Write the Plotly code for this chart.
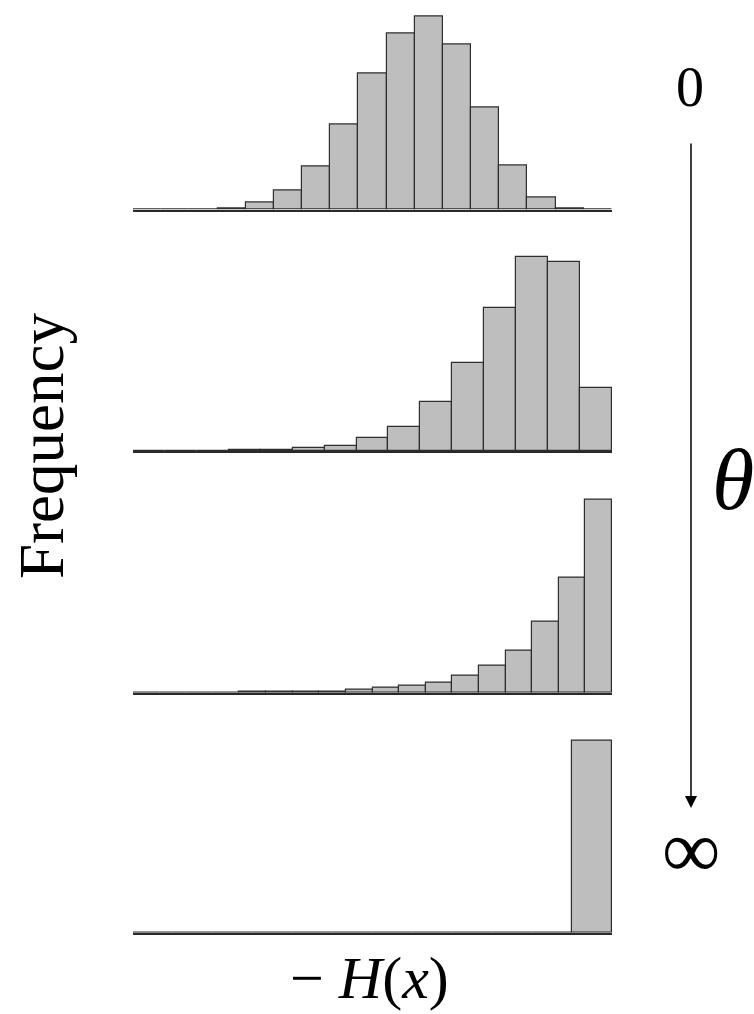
import plotly.graph_objects as go

# Histogram heights (relative frequency) for each theta level
freq_theta0 = [0, 0, 0, 0.7, 7, 18.7, 42.7, 85, 136.3, 175.7, 192.7, 165.3, 102, 44.3, 11.7, 0.7, 0]
freq_theta1 = [0, 0, 0, 1.3, 1.3, 3.3, 5, 13.3, 23.7, 49, 88, 143, 194.3, 188.7, 63.3]
freq_theta2 = [0, 0, 0, 0, 1, 1, 1, 1, 3.3, 4.7, 6.7, 10, 16.7, 26.7, 42.3, 71, 115.3, 193.3]
freq_theta3 = [0, 0, 0, 0, 0, 0, 0, 0, 0, 0, 0, 191.7]
panels = [freq_theta0, freq_theta1, freq_theta2, freq_theta3]

W, H = 754, 1014
baselines_px = [209.5, 451.0, 692.7, 932.7]
panel_h_px = 200.0
x_left_px, x_right_px = 133.0, 612.0

fig = go.Figure()
layout_axes = {}
for i, vals in enumerate(panels):
    n = len(vals)
    idx = i + 1
    xa = "x" if idx == 1 else f"x{idx}"
    ya = "y" if idx == 1 else f"y{idx}"
    fig.add_trace(go.Bar(
        x=list(range(n)), y=vals, xaxis=xa, yaxis=ya, width=1.0,
        marker=dict(color="#bebebe", line=dict(color="#2e2e2e", width=1.2)),
        showlegend=False, hoverinfo="skip"))
    yb = baselines_px[i]
    bottom = (H - yb) / H
    top = (H - yb + panel_h_px) / H
    xname = "xaxis" if idx == 1 else f"xaxis{idx}"
    yname = "yaxis" if idx == 1 else f"yaxis{idx}"
    layout_axes[xname] = dict(domain=[x_left_px / W, x_right_px / W], range=[-0.5, n - 0.5],
                              anchor=ya, showline=True, linecolor="#2a2a2a", linewidth=1.6,
                              showticklabels=False, ticks="", showgrid=False, zeroline=False,
                              fixedrange=True)
    layout_axes[yname] = dict(domain=[bottom, top], range=[0, panel_h_px], anchor=xa,
                              showline=False, showticklabels=False, ticks="", showgrid=False,
                              zeroline=False, fixedrange=True)

serif = "Liberation Serif, DejaVu Serif, serif"
fig.update_layout(
    width=W, height=H, margin=dict(l=0, r=0, t=0, b=0),
    paper_bgcolor="white", plot_bgcolor="white", bargap=0,
    **layout_axes)

ann = [
    dict(text="Frequency", x=42 / W, y=1 - 446 / H, xref="paper", yref="paper",
         textangle=-90, showarrow=False, font=dict(family=serif, size=63, color="black"),
         xanchor="center", yanchor="middle"),
    dict(text="− <i>H</i>(<i>x</i>)", x=369 / W, y=1 - 978 / H, xref="paper", yref="paper",
         showarrow=False, font=dict(family=serif, size=60, color="black"),
         xanchor="center", yanchor="middle"),
    dict(text="0", x=690 / W, y=1 - 87 / H, xref="paper", yref="paper",
         showarrow=False, font=dict(family=serif, size=56, color="black"),
         xanchor="center", yanchor="middle"),
    dict(text="∞", x=691 / W, y=1 - 849 / H, xref="paper", yref="paper",
         showarrow=False, font=dict(family=serif, size=82, color="black"),
         xanchor="center", yanchor="middle"),
    dict(text="<i>θ</i>", x=733 / W, y=1 - 480 / H, xref="paper", yref="paper",
         showarrow=False, font=dict(family=serif, size=86, color="black"),
         xanchor="center", yanchor="middle"),
    dict(text="", x=691 / W, y=1 - 808 / H, xref="paper", yref="paper",
         ax=0, ay=-(808 - 142), axref="pixel", ayref="pixel",
         showarrow=True, arrowhead=2, arrowsize=1.6, arrowwidth=1.5, arrowcolor="black"),
]
fig.update_layout(annotations=ann)
fig.write_html("out.html")
